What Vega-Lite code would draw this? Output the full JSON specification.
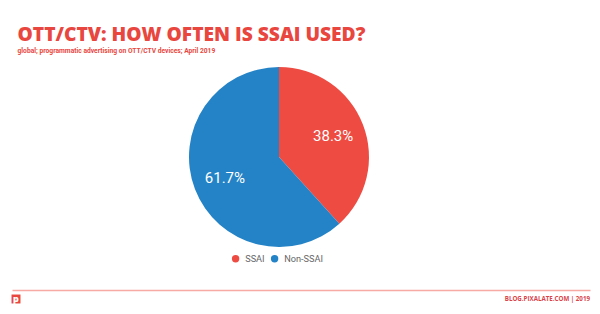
{
  "$schema": "https://vega.github.io/schema/vega-lite/v6.json",
  "background": "white",
  "padding": {"top": 26, "left": 11, "right": 11, "bottom": 0},
  "title": {
    "text": "OTT/CTV: HOW OFTEN IS SSAI USED?",
    "subtitle": "global; programmatic advertising on OTT/CTV devices; April 2019",
    "anchor": "start",
    "dx": 6,
    "font": "Open Sans",
    "fontSize": 19.2,
    "fontWeight": 800,
    "color": "#e8463e",
    "subtitleFont": "Roboto",
    "subtitleFontSize": 6.7,
    "subtitleFontWeight": 700,
    "subtitleColor": "#e8463e",
    "subtitlePadding": 3,
    "offset": 7
  },
  "spacing": 26,
  "resolve": {"legend": {"color": "independent"}},
  "vconcat": [
    {
      "width": 534,
      "height": 190,
      "data": {
        "values": [
          {"segment": "SSAI", "share": 38.3, "label": "38.3%"},
          {"segment": "Non-SSAI", "share": 61.7, "label": "61.7%"}
        ]
      },
      "encoding": {
        "theta": {"field": "share", "type": "quantitative", "stack": true},
        "order": {"field": "share", "type": "quantitative", "sort": "ascending"}
      },
      "layer": [
        {
          "mark": {"type": "arc", "outerRadius": 90},
          "encoding": {
            "color": {
              "field": "segment",
              "type": "nominal",
              "scale": {"domain": ["SSAI", "Non-SSAI"], "range": ["#ee4b43", "#2483c6"]},
              "legend": {
                "orient": "none",
                "legendX": 219,
                "legendY": 192,
                "direction": "horizontal",
                "title": null,
                "symbolType": "circle",
                "symbolSize": 55,
                "labelFont": "Roboto",
                "labelFontSize": 9.2,
                "labelColor": "#666666",
                "labelOffset": 5,
                "columnPadding": 5
              }
            }
          }
        },
        {
          "mark": {"type": "text", "radius": 58, "font": "Roboto", "fontSize": 15, "color": "white"},
          "encoding": {
            "text": {"field": "label", "type": "nominal"}
          }
        }
      ]
    },
    {
      "width": 578,
      "height": 18,
      "data": {
        "values": [
          {"role": "logo", "text": "p"},
          {"role": "site", "text": "BLOG.PIXALATE.COM | 2019"}
        ]
      },
      "encoding": {
        "x": {
          "field": "role",
          "type": "nominal",
          "scale": {"type": "point", "domain": ["logo", "site"], "padding": 0},
          "axis": {
            "orient": "top",
            "title": null,
            "labels": false,
            "ticks": false,
            "domain": true,
            "domainColor": "#f7aaa4",
            "domainWidth": 1.5
          }
        }
      },
      "layer": [
        {
          "transform": [{"filter": "datum.role == 'logo'"}],
          "mark": {"type": "square", "size": 80, "filled": true, "color": "#e8463e", "opacity": 1, "xOffset": 4}
        },
        {
          "transform": [{"filter": "datum.role == 'logo'"}],
          "mark": {"type": "text", "font": "Open Sans", "fontSize": 9, "fontWeight": 800, "color": "white", "xOffset": 4, "baseline": "middle"},
          "encoding": {"text": {"field": "text"}}
        },
        {
          "transform": [{"filter": "datum.role == 'site'"}],
          "mark": {"type": "text", "align": "right", "baseline": "middle", "font": "Open Sans", "fontSize": 6.2, "fontWeight": 700, "color": "#d9434b"},
          "encoding": {"text": {"field": "text"}}
        }
      ]
    }
  ],
  "config": {
    "view": {"stroke": null}
  }
}
